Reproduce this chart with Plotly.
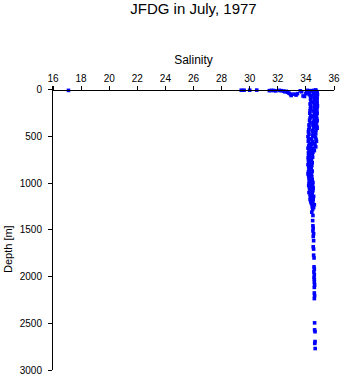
import plotly.graph_objects as go

# Near-surface points (salinity, depth in m)
surf_sal = [17.1, 29.4, 29.6, 30.0, 30.5, 31.4, 31.55, 31.7, 31.85, 32.1,
            32.25, 32.4, 32.5, 32.6, 32.7, 32.8, 32.9, 32.95, 33.15, 33.3,
            33.4, 33.6, 33.7, 33.8, 33.9, 34.0, 34.1, 34.15, 34.2, 34.25,
            34.3, 34.4]
surf_dep = [5, 3, 3, 3, 2, 8, 5, 6, 10, 5,
            8, 12, 20, 15, 25, 35, 45, 60, 45, 55,
            40, 10, 20, 65, 70, 40, 5, 15, 30, 50,
            8, 12]

cast1_dep = [20, 40, 60, 80, 100, 125, 150, 175, 200, 225, 250, 275, 300, 325, 350,
             375, 400, 425, 450, 475, 500, 525, 550, 575, 600, 625, 650, 675, 700, 725,
             750, 775, 800, 825, 850, 875, 900, 925, 950, 975, 1000, 1025, 1050, 1075, 1100,
             1125, 1150, 1175, 1200]
cast1_sal = [34.05, 34.25, 34.32, 34.35, 34.33, 34.36, 34.3, 34.34, 34.32, 34.3,
             34.28, 34.35, 34.3, 34.26, 34.3, 34.22, 34.25, 34.2, 34.18, 34.22,
             34.15, 34.2, 34.17, 34.25, 34.2, 34.15, 34.22, 34.18, 34.2, 34.16,
             34.18, 34.2, 34.15, 34.2, 34.22, 34.18, 34.15, 34.2, 34.22, 34.25,
             34.22, 34.2, 34.25, 34.28, 34.22, 34.3, 34.32, 34.3, 34.35]

cast2_dep = [0, 15, 30, 50, 70, 90, 110, 130, 150, 170, 190, 210, 230, 250, 270,
             290, 310, 330, 350, 370, 390, 410, 430, 450, 470, 490, 510, 530, 550, 570,
             590, 610, 630, 650, 670, 690, 720, 750, 780, 810, 840, 870, 900, 930, 960,
             990, 1020, 1050, 1080, 1110, 1140, 1170, 1200, 1230, 1260]
cast2_sal = [34.7, 34.75, 34.8, 34.82, 34.78, 34.8, 34.75, 34.8, 34.78, 34.82,
             34.8, 34.75, 34.78, 34.8, 34.76, 34.72, 34.78, 34.8, 34.75, 34.7,
             34.78, 34.8, 34.72, 34.65, 34.7, 34.62, 34.68, 34.72, 34.75, 34.6,
             34.65, 34.7, 34.55, 34.6, 34.5, 34.45, 34.48, 34.4, 34.45, 34.42,
             34.38, 34.45, 34.4, 34.42, 34.45, 34.5, 34.48, 34.52, 34.5, 34.45,
             34.55, 34.52, 34.5, 34.6, 34.55]

cast3_dep = [5, 25, 45, 65, 85, 105, 135, 165, 195, 225, 255, 285, 315, 345, 375,
             405, 435, 465, 495, 525, 555, 585, 615, 645, 675, 705, 735, 765, 795, 825,
             855, 885, 915, 945, 975, 1005, 1035, 1065, 1095, 1125, 1160, 1190, 1220, 1250, 1280,
             1310, 1345, 1400, 1455, 1480, 1510, 1540, 1570, 1615, 1680, 1705, 1770, 1800, 1895, 1920,
             1950, 1980, 2010, 2030, 2060, 2090, 2115, 2175, 2205, 2235, 2495, 2570, 2590, 2695, 2715,
             2770]
cast3_sal = [34.55, 34.6, 34.55, 34.6, 34.58, 34.62, 34.55, 34.6, 34.58, 34.55,
             34.6, 34.52, 34.58, 34.55, 34.5, 34.55, 34.45, 34.5, 34.48, 34.4,
             34.45, 34.4, 34.35, 34.38, 34.32, 34.3, 34.28, 34.3, 34.32, 34.28,
             34.3, 34.32, 34.35, 34.3, 34.35, 34.32, 34.38, 34.35, 34.4, 34.38,
             34.42, 34.45, 34.4, 34.45, 34.48, 34.42, 34.5, 34.48, 34.5, 34.52,
             34.5, 34.55, 34.52, 34.55, 34.52, 34.55, 34.55, 34.58, 34.58, 34.6,
             34.57, 34.6, 34.58, 34.6, 34.6, 34.62, 34.6, 34.6, 34.62, 34.6,
             34.62, 34.62, 34.65, 34.65, 34.63, 34.66]

x_ticks = list(range(16, 37, 2))
y_ticks = [0, 500, 1000, 1500, 2000, 2500, 3000]
x_range = [16, 36]
y_range = [3000, -42]

FONT = "Liberation Sans, Arial, sans-serif"

fig = go.Figure()
for sal, dep in [(surf_sal, surf_dep), (cast1_sal, cast1_dep),
                 (cast2_sal, cast2_dep), (cast3_sal, cast3_dep)]:
    fig.add_trace(go.Scatter(
        x=sal, y=dep, mode="markers",
        marker=dict(symbol="square", size=3.6, color="#0000FF", line=dict(width=0)),
        showlegend=False, hoverinfo="x+y"))

xpos = y_range[0] / (y_range[0] - y_range[1])

fig.update_layout(
    width=348, height=384,
    margin=dict(l=53, r=9, t=86, b=8),
    paper_bgcolor="white", plot_bgcolor="white",
    font=dict(family=FONT, color="black", size=10),
    title=dict(text="JFDG in July, 1977", x=0.5, xref="paper", xanchor="center",
               y=1 - 9 / 384, yref="container", yanchor="middle",
               font=dict(size=15, family=FONT, color="black")),
    xaxis=dict(range=x_range, side="top", anchor="free", position=xpos,
               tickvals=x_ticks, ticktext=[str(v) for v in x_ticks],
               ticks="outside", ticklen=4, tickwidth=1, tickcolor="black",
               showline=True, linecolor="black", linewidth=1,
               showgrid=False, zeroline=False,
               tickfont=dict(size=10),
               title=dict(text="Salinity", font=dict(size=12), standoff=4)),
    yaxis=dict(range=y_range, tickvals=y_ticks, ticktext=[str(v) for v in y_ticks],
               ticks="outside", ticklen=4, tickwidth=1, tickcolor="black",
               showline=True, linecolor="black", linewidth=1,
               showgrid=False, zeroline=False, ticklabelstandoff=4,
               tickfont=dict(size=10)),
    annotations=[dict(text="Depth [m]", textangle=-90, xref="paper", yref="paper",
                      x=0, xshift=-45, y=0.426, xanchor="center", yanchor="middle",
                      showarrow=False, font=dict(size=11, family=FONT))],
)

fig.write_html("out.html")
